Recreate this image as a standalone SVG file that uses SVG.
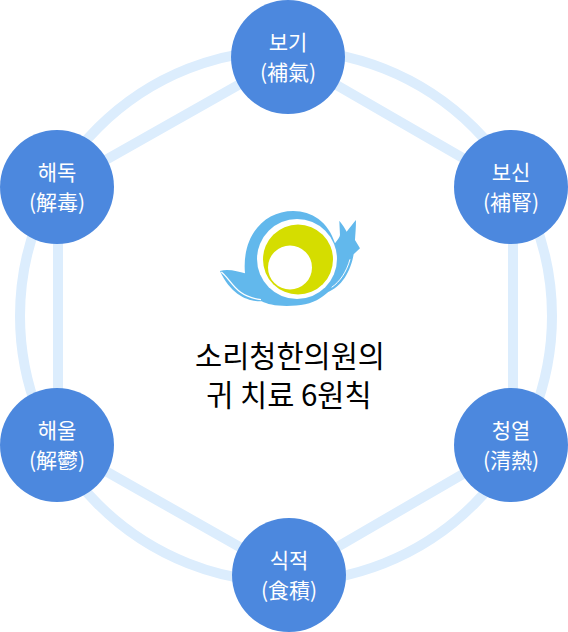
<svg xmlns="http://www.w3.org/2000/svg" width="568" height="632" viewBox="0 0 568 632">
<style>
.l{fill:none;stroke:#dcedfd;stroke-width:10}
.n{fill:#4c88de}
.t{font-family:"Noto Sans CJK KR","Noto Sans",sans-serif;fill:#fff;font-size:21px;font-weight:400;text-anchor:middle}
.c{font-family:"Noto Sans CJK KR","Noto Sans",sans-serif;fill:#000;font-size:29.5px;font-weight:400;text-anchor:middle}
</style>
<g id="connectors">
<circle class="l" cx="286" cy="316" r="266"/>
<path class="l" d="M288 57L513 187L513 445L289 575L58 444L58 187Z"/>
</g>
<g id="logo">
<g transform="translate(200 200) scale(.3333)">
<path fill="#62b8ec" d="M60 213C85 205 115 215 135 220C125 110 190 33 280 33C335 33 385 65 405 130C412 120 420 112 420 105L418 62C428 75 435 85 440 95C450 82 460 70 468 60C468 85 466 105 465 120L480 145L461 163C452 215 425 262 380 278C395 262 405 255 410 245C395 270 375 285 360 295C335 312 300 318 260 318C225 318 200 312 185 304C150 305 95 290 60 213Z"/>
<path fill="none" stroke="#fff" stroke-width="4" d="M64 216C95 240 105 290 183 299"/>
<path fill="none" stroke="#fff" stroke-width="3" d="M450 178C440 215 420 245 395 262"/>
</g>
<circle cx="297" cy="259" r="40" fill="#fff"/>
<circle cx="298" cy="259.500" r="35" fill="#d5dd00"/>
<circle cx="290" cy="267.500" r="22" fill="#fff"/>
</g>
<g id="title">
<text class="c" x="290" y="367">소리청한의원의</text>
<text class="c" x="289" y="406">귀 치료 6원칙</text>
</g>
<g id="n1"><circle class="n" cx="288" cy="57" r="57"/><text class="t" x="288" y="50">보기</text><text class="t" x="288" y="80">(補氣)</text></g>
<g id="n2"><circle class="n" cx="511" cy="187" r="57"/><text class="t" x="511" y="180">보신</text><text class="t" x="511" y="210">(補腎)</text></g>
<g id="n3"><circle class="n" cx="511" cy="445" r="57"/><text class="t" x="511" y="438">청열</text><text class="t" x="511" y="468">(清熱)</text></g>
<g id="n4"><circle class="n" cx="289" cy="575" r="57"/><text class="t" x="289" y="568">식적</text><text class="t" x="289" y="598">(食積)</text></g>
<g id="n5"><circle class="n" cx="57" cy="445" r="57"/><text class="t" x="57" y="438">해울</text><text class="t" x="57" y="468">(解鬱)</text></g>
<g id="n6"><circle class="n" cx="57" cy="187" r="57"/><text class="t" x="57" y="180">해독</text><text class="t" x="57" y="210">(解毒)</text></g>
</svg>
